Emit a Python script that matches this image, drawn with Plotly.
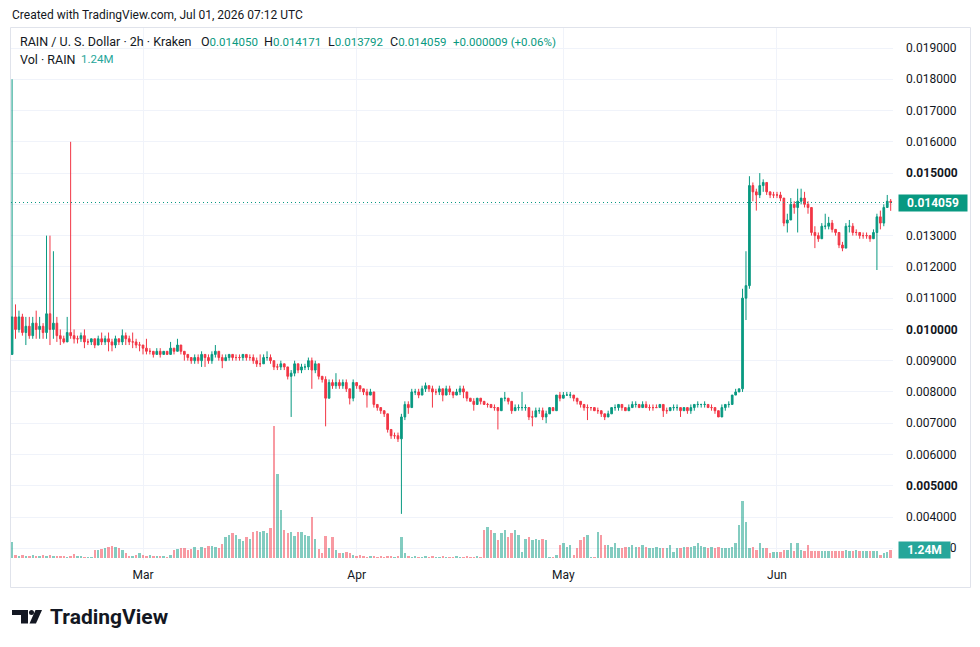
import pandas as pd
import plotly.graph_objects as go

# ---------------- data (12h bars, RAIN/USD, Kraken) ----------------
start_time = "2026-02-10 00:00"
bar_hours = 12
first_open = 0.0092

close = [
    0.0104, 0.0100, 0.0104, 0.0099, 0.0101, 0.0098, 0.0102, 0.0100, 0.0101, 0.0099,
    0.0105, 0.0100, 0.0102, 0.0098, 0.0097, 0.0096, 0.0099, 0.0098, 0.0097, 0.0097,
    0.0098, 0.0096, 0.0096, 0.0097, 0.0095, 0.0097, 0.0096, 0.0097, 0.0096, 0.0095,
    0.0097, 0.0096, 0.0098, 0.0097, 0.0096, 0.0096, 0.0095, 0.0095, 0.0094, 0.0093,
    0.0093, 0.0092, 0.0093, 0.0092, 0.0093, 0.0092, 0.0094, 0.0093, 0.0095, 0.0093,
    0.0092, 0.0091, 0.0090, 0.0091, 0.0090, 0.0092, 0.0091, 0.0090, 0.0092, 0.0093,
    0.0091, 0.0090, 0.0091, 0.0092, 0.0091, 0.0091, 0.0091, 0.0092, 0.0091, 0.0091,
    0.0090, 0.0089, 0.0089, 0.0091, 0.0091, 0.0090, 0.0088, 0.0088, 0.0089, 0.0088,
    0.0085, 0.0086, 0.0089, 0.0087, 0.0088, 0.0088, 0.0090, 0.0087, 0.0089, 0.0085,
    0.0084, 0.0078, 0.0083, 0.0082, 0.0083, 0.0082, 0.0083, 0.0081, 0.0078, 0.0083,
    0.0082, 0.0081, 0.0080, 0.0079, 0.0080, 0.0076, 0.0075, 0.0074, 0.0073, 0.0068,
    0.0066, 0.0066, 0.0065, 0.0072, 0.0076, 0.0075, 0.0080, 0.0080, 0.0079, 0.0081,
    0.0082, 0.0081, 0.0080, 0.0080, 0.0081, 0.0079, 0.0081, 0.0080, 0.0079, 0.0080,
    0.0081, 0.0080, 0.0078, 0.0077, 0.0076, 0.0078, 0.0077, 0.0076, 0.0076, 0.0075,
    0.0075, 0.0074, 0.0078, 0.0078, 0.0077, 0.0074, 0.0075, 0.0075, 0.0075, 0.0075,
    0.0072, 0.0072, 0.0074, 0.0074, 0.0072, 0.0073, 0.0075, 0.0074, 0.0079, 0.0078,
    0.0079, 0.0079, 0.0079, 0.0078, 0.0077, 0.0076, 0.0075, 0.0075, 0.0075, 0.0074,
    0.0074, 0.0073, 0.0072, 0.0073, 0.0075, 0.0075, 0.0076, 0.0075, 0.0074, 0.0075,
    0.0076, 0.0076, 0.0075, 0.0076, 0.0075, 0.0075, 0.0075, 0.0075, 0.0076, 0.0074,
    0.0074, 0.0075, 0.0075, 0.0075, 0.0074, 0.0075, 0.0074, 0.0075, 0.0076, 0.0076,
    0.0076, 0.0076, 0.0075, 0.0075, 0.0074, 0.0072, 0.0075, 0.0076, 0.0076, 0.0079,
    0.0080, 0.0081, 0.0110, 0.0114, 0.0146, 0.0144, 0.0143, 0.0146, 0.0147, 0.0144,
    0.0143, 0.0143, 0.0143, 0.0142, 0.0134, 0.0135, 0.0140, 0.0139, 0.0141, 0.0142,
    0.0140, 0.0139, 0.0131, 0.0130, 0.0129, 0.0133, 0.0133, 0.0134, 0.0132, 0.0131,
    0.0127, 0.0126, 0.0133, 0.0133, 0.0131, 0.0131, 0.0130, 0.0130, 0.0130, 0.0129,
    0.0131, 0.0136, 0.0134, 0.0139, 0.0141, 0.014059,
]

high = [
    0.0180, 0.0108, 0.0106, 0.0105, 0.0104, 0.0104, 0.0104, 0.0106, 0.0104, 0.0102,
    0.0130, 0.0130, 0.0125, 0.0104, 0.0100, 0.0098, 0.0104, 0.0160, 0.0100, 0.0098,
    0.0099, 0.0100, 0.0097, 0.0097, 0.0097, 0.0098, 0.0099, 0.0098, 0.0099, 0.0097,
    0.0098, 0.0097, 0.0100, 0.0099, 0.0098, 0.0099, 0.0097, 0.0096, 0.0095, 0.0097,
    0.0094, 0.0093, 0.0094, 0.0094, 0.0093, 0.0093, 0.0096, 0.0094, 0.0097, 0.0095,
    0.0093, 0.0092, 0.0091, 0.0092, 0.0092, 0.0093, 0.0092, 0.0092, 0.0093, 0.0095,
    0.0093, 0.0092, 0.0092, 0.0092, 0.0092, 0.0092, 0.0092, 0.0092, 0.0092, 0.0092,
    0.0092, 0.0091, 0.0092, 0.0092, 0.0093, 0.0092, 0.0090, 0.0089, 0.0090, 0.0089,
    0.0088, 0.0087, 0.0090, 0.0089, 0.0089, 0.0089, 0.0091, 0.0091, 0.0090, 0.0089,
    0.0085, 0.0085, 0.0084, 0.0084, 0.0086, 0.0084, 0.0084, 0.0084, 0.0081, 0.0084,
    0.0083, 0.0082, 0.0081, 0.0081, 0.0081, 0.0080, 0.0076, 0.0075, 0.0074, 0.0073,
    0.0068, 0.0067, 0.0067, 0.0073, 0.0077, 0.0077, 0.0081, 0.0081, 0.0081, 0.0082,
    0.0083, 0.0082, 0.0082, 0.0081, 0.0082, 0.0081, 0.0082, 0.0082, 0.0080, 0.0081,
    0.0082, 0.0082, 0.0080, 0.0078, 0.0078, 0.0078, 0.0078, 0.0077, 0.00765, 0.0076,
    0.0076, 0.0075, 0.0078, 0.0080, 0.0078, 0.0077, 0.0076, 0.0076, 0.0080, 0.0076,
    0.0075, 0.0074, 0.0075, 0.0075, 0.0075, 0.0074, 0.0075, 0.0075, 0.0079, 0.0080,
    0.0080, 0.0080, 0.0080, 0.0079, 0.0078, 0.0077, 0.0076, 0.0076, 0.0075, 0.0075,
    0.0075, 0.0074, 0.0073, 0.0074, 0.0075, 0.0076, 0.0076, 0.0076, 0.0075, 0.0076,
    0.0077, 0.0077, 0.0076, 0.0077, 0.0077, 0.0076, 0.0076, 0.0076, 0.0076, 0.0076,
    0.0075, 0.0075, 0.0076, 0.0076, 0.0075, 0.0075, 0.0075, 0.0076, 0.0076, 0.0077,
    0.0076, 0.0077, 0.0076, 0.0076, 0.0075, 0.0074, 0.0076, 0.0076, 0.0077, 0.0079,
    0.0081, 0.0081, 0.0113, 0.0125, 0.0149, 0.0147, 0.0145, 0.0150, 0.0148, 0.0147,
    0.0144, 0.0144, 0.0144, 0.0144, 0.0142, 0.0137, 0.0142, 0.0141, 0.0145, 0.0145,
    0.0144, 0.0141, 0.0139, 0.0133, 0.0131, 0.0134, 0.0137, 0.0136, 0.0135, 0.0132,
    0.0131, 0.0128, 0.0134, 0.0135, 0.0134, 0.0132, 0.0131, 0.0131, 0.0131, 0.0130,
    0.0132, 0.0137, 0.0138, 0.0140, 0.0143, 0.014171,
]

low = [
    0.0092, 0.0097, 0.0099, 0.0098, 0.0095, 0.0097, 0.0097, 0.0097, 0.0097, 0.0097,
    0.0097, 0.0095, 0.0097, 0.0096, 0.0095, 0.00955, 0.0096, 0.0097, 0.00955, 0.00955,
    0.0096, 0.0094, 0.0095, 0.0095, 0.0094, 0.0095, 0.0095, 0.0095, 0.0093, 0.0093,
    0.0094, 0.0095, 0.0095, 0.0095, 0.0095, 0.0094, 0.0094, 0.0093, 0.0092, 0.0092,
    0.0092, 0.0091, 0.0092, 0.0091, 0.0092, 0.0092, 0.0092, 0.0092, 0.0093, 0.0092,
    0.0090, 0.0090, 0.0089, 0.0089, 0.0089, 0.0088, 0.0088, 0.0089, 0.0089, 0.0091,
    0.0090, 0.00876, 0.0090, 0.0090, 0.0090, 0.0090, 0.0090, 0.0090, 0.0090, 0.0090,
    0.0089, 0.0088, 0.0088, 0.0089, 0.0090, 0.0089, 0.0087, 0.0087, 0.0087, 0.0087,
    0.0084, 0.0072, 0.0085, 0.0086, 0.0086, 0.0087, 0.0087, 0.0081, 0.0086, 0.0084,
    0.0083, 0.0069, 0.0078, 0.0081, 0.0081, 0.0081, 0.0081, 0.0080, 0.0076, 0.0077,
    0.0081, 0.0080, 0.0079, 0.0075, 0.0079, 0.0075, 0.0074, 0.0073, 0.0072, 0.0067,
    0.0065, 0.0065, 0.0064, 0.0041, 0.0071, 0.0073, 0.0075, 0.0079, 0.0078, 0.0079,
    0.0080, 0.0080, 0.0075, 0.0079, 0.0079, 0.0077, 0.0079, 0.0079, 0.0078, 0.0079,
    0.0079, 0.0078, 0.0077, 0.0077, 0.0074, 0.0076, 0.0076, 0.0076, 0.0075, 0.0075,
    0.0074, 0.0068, 0.0074, 0.0077, 0.0076, 0.0073, 0.0074, 0.0074, 0.0074, 0.0074,
    0.0071, 0.0069, 0.0072, 0.0073, 0.0071, 0.0070, 0.0073, 0.0074, 0.0074, 0.0077,
    0.0078, 0.0079, 0.0078, 0.0077, 0.0076, 0.0075, 0.0074, 0.0071, 0.0074, 0.0074,
    0.0073, 0.0072, 0.0071, 0.0072, 0.0073, 0.0074, 0.0074, 0.0074, 0.0074, 0.0074,
    0.0075, 0.0075, 0.0075, 0.0075, 0.0075, 0.0074, 0.0074, 0.0075, 0.0075, 0.0072,
    0.0073, 0.0074, 0.0074, 0.0074, 0.0072, 0.0074, 0.0073, 0.0073, 0.0074, 0.0075,
    0.0075, 0.0075, 0.0075, 0.0074, 0.0073, 0.0072, 0.0072, 0.0074, 0.0075, 0.0076,
    0.0079, 0.0080, 0.0080, 0.0103, 0.0113, 0.0141, 0.0138, 0.0142, 0.0144, 0.0143,
    0.0142, 0.0142, 0.0142, 0.0141, 0.0133, 0.0131, 0.0135, 0.0137, 0.0131, 0.0140,
    0.0139, 0.0137, 0.0130, 0.0126, 0.0128, 0.0129, 0.0132, 0.0132, 0.0131, 0.0130,
    0.0126, 0.0125, 0.0126, 0.0131, 0.0130, 0.0130, 0.0129, 0.0129, 0.0129, 0.0128,
    0.0129, 0.0119, 0.0132, 0.0133, 0.0139, 0.013792,
]

# volume, millions of RAIN per 2h (typical value within each 12h bar)
volume = [
    2.5, 0.5, 0.3, 0.4, 0.3, 0.3, 0.4, 0.3, 0.3, 0.5,
    0.3, 0.4, 0.3, 0.3, 0.3, 0.3, 0.2, 0.3, 0.6, 0.3,
    0.3, 0.2, 0.2, 0.2, 1.2, 1.3, 1.4, 1.6, 1.7, 1.8,
    1.7, 1.6, 1.3, 0.8, 0.3, 0.3, 0.4, 0.7, 0.4, 0.3,
    0.5, 0.3, 0.3, 0.3, 0.3, 0.2, 0.4, 1.3, 1.4, 1.6,
    1.5, 1.3, 1.4, 1.7, 1.2, 1.7, 1.5, 1.8, 1.9, 1.7,
    1.6, 2.2, 3.3, 3.6, 3.8, 3.6, 3.0, 2.7, 3.2, 3.0,
    4.0, 4.2, 4.0, 4.2, 3.8, 4.6, 20.5, 13.0, 7.5, 4.3,
    3.9, 4.1, 3.4, 4.1, 4.1, 3.6, 3.4, 6.3, 2.9, 1.4,
    0.8, 3.4, 1.5, 3.2, 1.2, 0.8, 0.8, 1.0, 0.7, 0.5,
    0.3, 0.4, 0.3, 0.2, 0.3, 0.3, 0.2, 0.3, 0.2, 0.3,
    0.3, 0.2, 0.3, 3.3, 0.8, 0.3, 0.2, 0.3, 0.2, 0.2,
    0.3, 0.2, 0.3, 0.2, 0.2, 0.3, 0.2, 0.2, 0.2, 0.3,
    0.2, 0.2, 0.3, 0.2, 0.2, 0.3, 0.2, 4.3, 4.8, 4.3,
    3.8, 2.8, 3.8, 4.3, 3.3, 3.8, 4.3, 3.5, 1.0, 3.0,
    3.3, 2.8, 3.0, 2.8, 3.0, 2.8, 0.2, 0.2, 0.5, 2.0,
    2.3, 1.75, 2.0, 0.5, 1.5, 2.8, 3.3, 3.5, 0.2, 0.2,
    4.1, 3.5, 2.0, 2.0, 1.75, 2.3, 1.5, 1.5, 1.75, 1.75,
    2.0, 1.75, 1.75, 2.0, 1.75, 1.5, 1.5, 1.75, 1.5, 1.5,
    1.5, 2.0, 1.0, 1.5, 1.5, 1.75, 1.75, 1.75, 1.8, 2.3,
    1.8, 1.75, 1.5, 1.75, 1.5, 1.75, 1.5, 1.5, 1.5, 1.75,
    2.3, 5.1, 8.8, 5.6, 1.5, 1.75, 1.24, 2.3, 1.5, 1.5,
    0.8, 1.0, 1.0, 1.0, 1.24, 1.24, 2.3, 1.1, 2.4, 1.24,
    1.1, 2.0, 1.1, 1.1, 1.1, 1.1, 1.1, 1.1, 1.1, 1.1,
    1.1, 1.1, 1.24, 1.1, 1.1, 1.2, 1.1, 1.1, 1.1, 1.1,
    1.1, 1.1, 0.5, 0.8, 1.0, 1.24,
]

price_ticks = [0.003, 0.004, 0.005, 0.006, 0.007, 0.008, 0.009, 0.010, 0.011,
               0.012, 0.013, 0.014, 0.015, 0.016, 0.017, 0.018, 0.019]
bold_ticks = [0.005, 0.010, 0.015]
hidden_ticks = [0.014]          # covered by the last-price tag in the original
month_ticks = ["2026-03-01", "2026-04-01", "2026-05-01", "2026-06-01"]
month_labels = ["Mar", "Apr", "May", "Jun"]

last_ohlc = {"O": "0.014050", "H": "0.014171", "L": "0.013792", "C": "0.014059"}
last_change = "+0.000009 (+0.06%)"
last_price = 0.014059
last_volume_label = "1.24M"

n = len(close)
assert len(high) == n and len(low) == n and len(volume) == n, (len(close), len(high), len(low), len(volume))

times = pd.date_range(start_time, periods=n, freq=f"{bar_hours}h")
opens = [first_open] + close[:-1]

UP = "#089981"
DOWN = "#F23645"
TXT = "#131722"
GRID = "#f0f3fa"
FONT = "Roboto"

vol_colors = ["rgba(8,153,129,0.5)" if c >= o else "rgba(242,54,69,0.5)" for o, c in zip(opens, close)]

# ---------------- geometry (pixels of the 980x647 page) ----------------
L, R, T, B = 11, 893, 28, 560
W, H = R - L, B - T


def px(x):
    return (x - L) / W


def py(y):
    return (B - y) / H


fig = go.Figure()

fig.add_trace(go.Bar(
    x=times, y=volume, marker=dict(color=vol_colors, line=dict(width=0)),
    width=bar_hours * 3600 * 1000 * 0.7, yaxis="y2", hoverinfo="skip", showlegend=False,
))

fig.add_trace(go.Candlestick(
    x=times, open=opens, high=high, low=low, close=close,
    increasing=dict(line=dict(color=UP, width=1), fillcolor=UP),
    decreasing=dict(line=dict(color=DOWN, width=1), fillcolor=DOWN),
    whiskerwidth=0, hoverinfo="skip", showlegend=False,
))

tick_text = []
for v in price_ticks:
    s = f"{v:.6f}"
    if any(abs(v - b) < 1e-9 for b in bold_ticks):
        s = f"<b>{s}</b>"
    if any(abs(v - h) < 1e-9 for h in hidden_ticks):
        s = ""
    tick_text.append(s)

x_left = pd.Timestamp("2026-03-01") - pd.Timedelta(days=19.155)
x_right = pd.Timestamp("2026-06-01") + pd.Timedelta(days=16.834)

fig.update_layout(
    width=980, height=647,
    margin=dict(l=L, r=980 - R, t=T, b=647 - B),
    paper_bgcolor="white", plot_bgcolor="white",
    font=dict(family=FONT, size=12, color=TXT),
    showlegend=False,
    bargap=0,
    xaxis=dict(
        type="date", range=[x_left, x_right],
        rangeslider=dict(visible=False),
        tickvals=month_ticks, ticktext=month_labels,
        showgrid=True, gridcolor=GRID, gridwidth=1,
        zeroline=False, showline=False, ticks="",
        tickfont=dict(family=FONT, size=12, color=TXT),
        ticklabelstandoff=6,
    ),
    yaxis=dict(
        side="right", range=[0.002625, 0.019640],
        tickvals=price_ticks, ticktext=tick_text,
        showgrid=True, gridcolor=GRID, gridwidth=1,
        zeroline=False, showline=False, ticks="",
        tickfont=dict(family=FONT, size=12, color=TXT),
        ticklabelstandoff=12,
    ),
    yaxis2=dict(
        overlaying="y", side="left", range=[-0.31, 82.15],
        visible=False, showgrid=False, zeroline=False,
    ),
)

shapes = []
# last price dotted line
shapes.append(dict(type="line", xref="paper", yref="y", x0=0, x1=1, y0=last_price, y1=last_price,
                   line=dict(color=UP, width=1, dash="1px,3px")))
# chart frame
shapes.append(dict(type="rect", xref="paper", yref="paper",
                   x0=px(10.5), x1=px(970.5), y0=py(587.5), y1=py(27.5),
                   line=dict(color="#e0e3eb", width=1), fillcolor="rgba(0,0,0,0)", layer="above"))
# TradingView logo icon
shapes.append(dict(type="rect", xref="paper", yref="paper", x0=px(12), x1=px(28), y0=py(615), y1=py(610),
                   line=dict(width=0), fillcolor="#131722"))
shapes.append(dict(type="rect", xref="paper", yref="paper", x0=px(21), x1=px(28), y0=py(623.5), y1=py(610),
                   line=dict(width=0), fillcolor="#131722"))
shapes.append(dict(type="circle", xref="paper", yref="paper", x0=px(29), x1=px(34), y0=py(615), y1=py(610),
                   line=dict(width=0), fillcolor="#131722"))
path = "M {:.5f} {:.5f} L {:.5f} {:.5f} L {:.5f} {:.5f} L {:.5f} {:.5f} Z".format(
    px(35.5), py(610), px(42), py(610), px(36), py(623.5), px(29.5), py(623.5))
shapes.append(dict(type="path", xref="paper", yref="paper", path=path,
                   line=dict(width=0), fillcolor="#131722"))
fig.update_layout(shapes=shapes)

LEG_T = 12.5   # legend words
LEG_V = 11.5   # legend numbers
green_span = '<span style="color:%s;font-size:%spx">%s</span>'
ann = []
ann.append(dict(xref="paper", yref="paper", x=px(10), y=py(15), xanchor="left", yanchor="middle",
                text="Created with TradingView.com, Jul 01, 2026 07:12 UTC", showarrow=False,
                font=dict(family=FONT, size=12, color=TXT)))
ann.append(dict(xref="paper", yref="paper", x=px(18), y=py(42), xanchor="left", yanchor="middle",
                text="RAIN / U. S. Dollar · 2h · Kraken", showarrow=False,
                font=dict(family=FONT, size=LEG_T, color=TXT)))
for key, xpos in zip(["O", "H", "L", "C"], [199, 262, 326, 388]):
    ann.append(dict(xref="paper", yref="paper", x=px(xpos), y=py(42), xanchor="left", yanchor="middle",
                    text=key + green_span % (UP, LEG_V, last_ohlc[key]), showarrow=False,
                    font=dict(family=FONT, size=LEG_T, color=TXT)))
ann.append(dict(xref="paper", yref="paper", x=px(451), y=py(42), xanchor="left", yanchor="middle",
                text=last_change, showarrow=False, font=dict(family=FONT, size=LEG_V, color=UP)))
ann.append(dict(xref="paper", yref="paper", x=px(18), y=py(59), xanchor="left", yanchor="middle",
                text="Vol · RAIN", showarrow=False, font=dict(family=FONT, size=LEG_T, color=TXT)))
ann.append(dict(xref="paper", yref="paper", x=px(79), y=py(59), xanchor="left", yanchor="middle",
                text=last_volume_label, showarrow=False, font=dict(family=FONT, size=LEG_V, color="#26a69a")))
# price tag on the axis
ann.append(dict(xref="paper", yref="y", x=px(898), y=last_price, xanchor="left", yanchor="middle",
                text="<b>%.6f</b>" % last_price, showarrow=False, bgcolor=UP, width=66, height=14,
                borderpad=1, font=dict(family=FONT, size=12, color="white")))
# volume tag
ann.append(dict(xref="paper", yref="y2", x=px(898), y=volume[-1], xanchor="left", yanchor="middle",
                text="<b>%s</b>" % last_volume_label, showarrow=False, bgcolor="#26a69a", width=49, height=14,
                borderpad=1, font=dict(family=FONT, size=12, color="white")))
# TradingView wordmark
ann.append(dict(xref="paper", yref="paper", x=px(48), y=py(617), xanchor="left", yanchor="middle",
                text="<b>TradingView</b>", showarrow=False,
                font=dict(family=FONT, size=21, color="#131722")))
fig.update_layout(annotations=ann)

fig.write_html("out.html")
